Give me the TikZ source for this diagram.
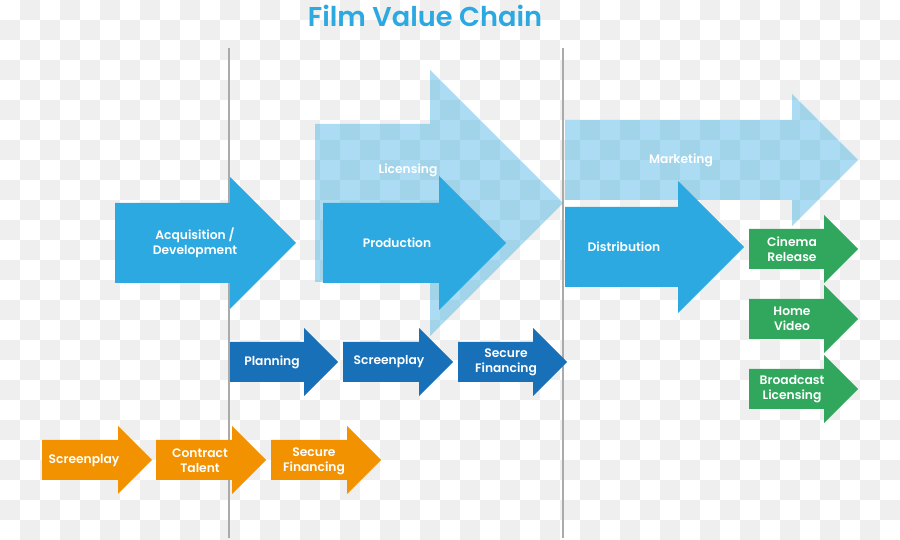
\documentclass[tikz,border=0pt]{standalone}
\usepackage{fontspec}
\setmainfont{Poppins}[BoldFont={Poppins SemiBold}]
\usepackage{xcolor}
\usepackage{tikz}
\usetikzlibrary{positioning}
\definecolor{skyblue}{RGB}{45, 169, 225}
\definecolor{deepblue}{RGB}{24, 112, 184}
\definecolor{amber}{RGB}{243, 146, 0}
\definecolor{leafgreen}{RGB}{48, 167, 92}
\definecolor{checkgray}{RGB}{239, 239, 239}
\definecolor{railgray}{RGB}{170, 170, 170}

% arrow: style, name, tail x, head x, centre y, half body, half head, text at, text
\newcommand{\chainarrow}[9]{%
  \fill[#1] (#3,{#5-#6}) -- (#4,{#5-#6}) -- (#4,{#5-#7}) -- ({#4+#7},#5)
    -- (#4,{#5+#7}) -- (#4,{#5+#6}) -- (#3,{#5+#6}) -- cycle;
  \node[arrowtext] (#2) at (#8) {#9};
}

\begin{document}
\begin{tikzpicture}[
        x=0.02cm, y=-0.02cm,
        arrowtext/.style = {text=white, align=center, inner sep=0pt, font=\fontsize{7}{8.4}\selectfont\bfseries},
        charttitle/.style = {text=skyblue, inner sep=0pt, font=\fontsize{15.5}{18}\selectfont\bfseries},
        phase/.style = {fill=skyblue},
        overlay phase/.style = {fill=skyblue, fill opacity=0.4},
        step row/.style = {fill=deepblue},
        talent row/.style = {fill=amber},
        outlet/.style = {fill=leafgreen},
        rail/.style = {draw=railgray, line width=1.7pt}
    ]
        \useasboundingbox (0,0) rectangle (900,540);

        % Background
        \fill[white] (0,0) rectangle (900,540);
        \foreach \j in {0,2,...,26}
            \foreach \i in {0,...,21}
                \fill[checkgray] ({20+40*\i},{20*\j}) rectangle +(20,20);
        \foreach \j in {1,3,...,25}
            \foreach \i in {0,...,22}
                \fill[checkgray] ({40*\i},{20*\j}) rectangle +(20,20);

        % Title and dividers
        \node[charttitle] (title) at (425,16) {Film Value Chain};
        \coordinate (railAtop) at (229,48);
        \coordinate (railAbot) at (229,538);
        \coordinate (railBtop) at (563,48);
        \coordinate (railBbot) at (563,538);
        \draw[rail] (railAtop) -- (railAbot);
        \draw[rail] (railBtop) -- (railBbot);

        % Overlay phases
        \chainarrow{overlay phase}{lic}{315}{430}{203}{79}{133}{408,170}{Licensing}
        \chainarrow{overlay phase}{mkt}{565}{792}{160}{40}{66}{681,160}{Marketing}

        % Main phases
        \chainarrow{phase}{acq}{115}{230}{243}{40}{66}{195,243}{Acquisition /\\Development}
        \chainarrow{phase}{prod}{323}{439}{243}{40}{67}{397,243}{Production}
        \chainarrow{phase}{dist}{565}{678}{247}{40}{66}{624,247}{Distribution}

        % Production steps
        \chainarrow{step row}{plan}{230}{304}{362}{20}{34}{272,362}{Planning}
        \chainarrow{step row}{script}{343}{419}{362}{20}{34}{389,362}{Screenplay}
        \chainarrow{step row}{finance}{458}{533}{362}{20}{34}{506,362}{Secure\\Financing}

        % Development steps
        \chainarrow{talent row}{devscript}{42}{118}{460}{20}{34}{84,461}{Screenplay}
        \chainarrow{talent row}{talent}{156}{232}{460}{20}{34}{200,461}{Contract\\Talent}
        \chainarrow{talent row}{devfinance}{271}{347}{460}{20}{34}{314,461}{Secure\\Financing}

        % Outlets
        \chainarrow{outlet}{cinema}{749}{824}{249}{20}{34}{792,249}{Cinema\\Release}
        \chainarrow{outlet}{video}{749}{824}{319}{20}{34}{792,319}{Home\\Video}
        \chainarrow{outlet}{broadcast}{749}{824}{389}{20}{34}{792,389}{Broadcast\\Licensing}
    \end{tikzpicture}
\end{document}
